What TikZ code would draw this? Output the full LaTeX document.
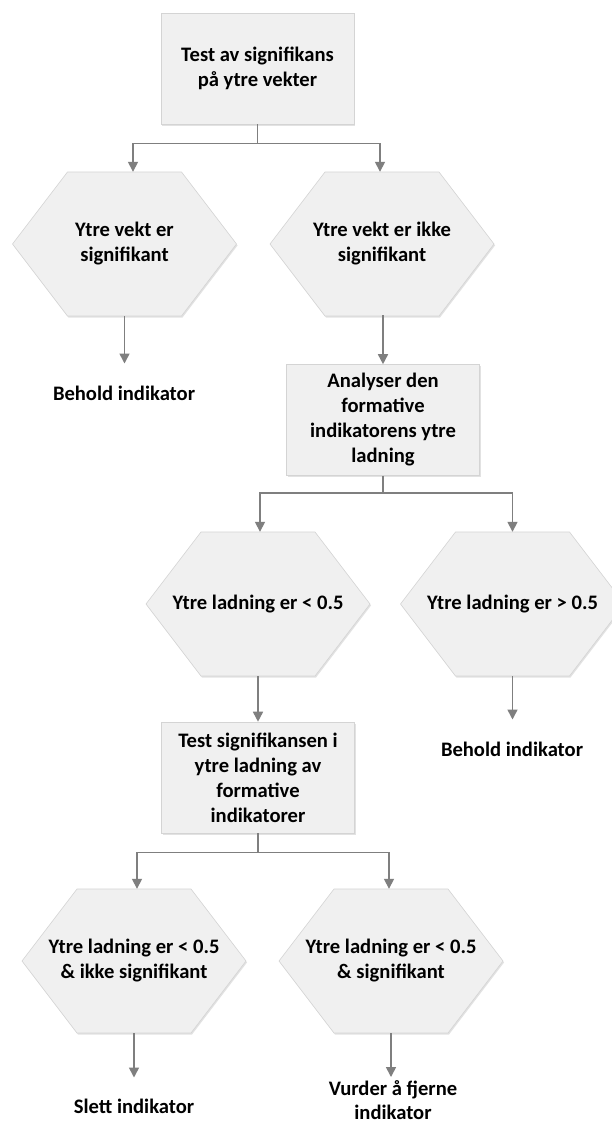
\documentclass[tikz,border=0pt]{standalone}
\usepackage{fontspec}
\setmainfont{Carlito}
\usetikzlibrary{arrows.meta,shadows}
\definecolor{boxfill}{HTML}{F0F0F0}
\definecolor{boxline}{HTML}{D4D4D4}
\definecolor{linegray}{HTML}{7F7F7F}
\newcommand{\hexat}[4]{%
  \path[hexshape] ({#2-112},#3) -- ({#2-57},{#3-72}) -- ({#2+57},{#3-72}) -- ({#2+112},#3) -- ({#2+57},{#3+72}) -- ({#2-57},{#3+72}) -- cycle;
  \node[hexlabel] (#1) at (#2,#3) {#4};}
\begin{document}
\begin{tikzpicture}[x=1pt,y=-1pt,
  font=\fontsize{20.6}{25}\selectfont\bfseries,
  shad/.style={drop shadow={shadow xshift=1pt,shadow yshift=-1.5pt,opacity=0.25,fill=black!45}},
  box/.style={draw=boxline,fill=boxfill,line width=0.6pt,minimum width=193pt,minimum height=111pt,align=center,inner sep=0pt,shad},
  hexlabel/.style={minimum width=224pt,minimum height=144pt,inner sep=0pt,align=center},
  hexshape/.style={draw=boxline,fill=boxfill,line width=0.6pt,shad},
  leaf/.style={align=center,inner sep=0pt},
  conn/.style={draw=linegray,line width=1.6pt},
  arr/.style={conn,-{Triangle[width=10pt,length=10pt]}}
]
\clip (0,0) rectangle (612,1124);
\fill[white] (0,0) rectangle (612,1124);

% level 1
\node[box] (box1) at (257.5,68.5) {Test av signifikans\\på ytre vekter};
\hexat{h1}{124.5}{244}{Ytre vekt er\\signifikant}
\hexat{h2}{382}{244}{Ytre vekt er ikke\\signifikant}
\node[leaf] (l1) at (124,393) {Behold indikator};
\node[box] (box2) at (383,420) {Analyser den\\formative\\indikatorens ytre\\ladning};

% level 2
\hexat{h3}{258}{604}{Ytre ladning er < 0.5}
\hexat{h4}{512.5}{604}{Ytre ladning er > 0.5}
\node[leaf] (l2) at (512,749) {Behold indikator};
\node[box] (box3) at (258,777.5) {Test signifikansen i\\ytre ladning av\\formative\\indikatorer};

% level 3
\hexat{h5}{134}{961}{Ytre ladning er < 0.5\\\& ikke signifikant}
\hexat{h6}{391}{961}{Ytre ladning er < 0.5\\\& signifikant}
\node[leaf] (l3) at (134,1106) {Slett indikator};
\node[leaf,anchor=north,font=\fontsize{20.6}{24}\selectfont\bfseries] (l4) at (393,1080) {Vurder å fjerne\\indikator};

% connectors
\coordinate (j1) at ([yshift=-19pt]box1.south);
\draw[conn] (box1.south) -- (j1);
\draw[arr] (j1) -| ([xshift=8.5pt]h1.north);
\draw[arr] (j1) -| ([xshift=-2pt]h2.north);
\draw[arr,shorten >=22pt] (h1.south) -- (h1.south |- l1.north);
\draw[arr] (h2.south) -- (h2.south -| box2.north) -- (box2.north);

\coordinate (j2) at ([yshift=-17pt]box2.south);
\draw[conn] (box2.south) -- (j2);
\draw[arr] (j2) -| ([xshift=2pt]h3.north);
\draw[arr] (j2) -| (h4.north);
\draw[arr] (h3.south) -- (box3.north);
\draw[arr,shorten >=22pt] (h4.south) -- (h4.south |- l2.north);

\coordinate (j3) at ([yshift=-19pt]box3.south);
\draw[conn] (box3.south) -- (j3);
\draw[arr] (j3) -| ([xshift=3pt]h5.north);
\draw[arr] (j3) -| ([xshift=-2pt]h6.north);
\draw[arr,shorten >=21pt] (h5.south) -- (h5.south |- l3.north);
\draw[arr,shorten >=3pt] (h6.south) -- (h6.south |- l4.north);
\end{tikzpicture}
\end{document}
